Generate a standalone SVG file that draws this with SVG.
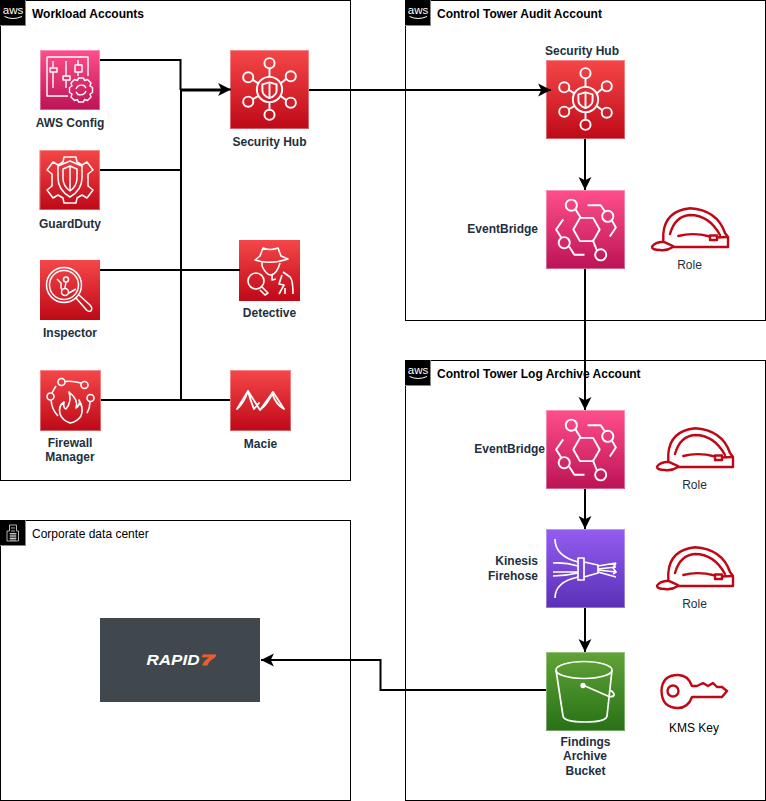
<svg xmlns="http://www.w3.org/2000/svg" width="766" height="801" viewBox="0 0 766 801">
<style>
.box{fill:#fff;stroke:#000;stroke-width:1}
.t{font:bold 12px "Liberation Sans",Arial,sans-serif;fill:#000}
.l{font:bold 12px "Liberation Sans",Arial,sans-serif;fill:#232F3E;text-anchor:middle}
.e{font:bold 12px "Liberation Sans",Arial,sans-serif;fill:#232F3E;text-anchor:end}
.r{font:12px "Liberation Sans",Arial,sans-serif;fill:#232F3E;text-anchor:middle}
.c{fill:none;stroke:#000;stroke-width:2}
.w{fill:none;stroke:#fff;stroke-width:1.900;stroke-linejoin:round}
.red{fill:none;stroke:#BF0816;stroke-width:2.400;stroke-linejoin:round;stroke-linecap:round}
.edge{fill:none;stroke-opacity:.35;stroke:#fff;stroke-width:1}
.logo{font:italic bold 14.500px "Liberation Sans",Arial,sans-serif}
</style>
<defs>
<linearGradient id="gR" x1="0" y1="0" x2="0" y2="1"><stop offset="0" stop-color="#F54749"/><stop offset="1" stop-color="#BE0917"/></linearGradient>
<linearGradient id="gP" x1="0" y1="0" x2="0" y2="1"><stop offset="0" stop-color="#FF4F8B"/><stop offset="1" stop-color="#BC1356"/></linearGradient>
<linearGradient id="gV" x1="0" y1="0" x2="0" y2="1"><stop offset="0" stop-color="#945DF2"/><stop offset="1" stop-color="#5A30B5"/></linearGradient>
<linearGradient id="gG" x1="0" y1="0" x2="0" y2="1"><stop offset="0" stop-color="#60A337"/><stop offset="1" stop-color="#277116"/></linearGradient>
<marker id="a" markerUnits="userSpaceOnUse" markerWidth="14" markerHeight="14" refX="12" refY="6" orient="auto" viewBox="0 0 13 12"><path d="M0 0L12 6L0 12L3 6Z" fill="#000"/></marker>
<symbol id="awsTag" viewBox="0 0 26 26">
<rect width="26" height="26" fill="#888"/>
<rect width="25" height="25" fill="#000"/>
<text x="13" y="13.500" text-anchor="middle" style="font:11.500px 'Liberation Sans',Arial,sans-serif;fill:#fff">aws</text>
<path d="M4.500 16.500Q13 20.500 22 16.500" fill="none" stroke="#fff" stroke-width="1"/>
</symbol>
<symbol id="hub" viewBox="0 0 78 78">
<g class="w">
<circle cx="39" cy="39" r="12.500"/><path d="M39 32L46 34V40Q46 45 39 47.500Q32 45 32 40V34Z"/><path d="M39 33V47"/>
<circle cx="39" cy="13" r="5"/><circle cx="18" cy="27" r="5"/><circle cx="60" cy="26" r="5"/><circle cx="18" cy="51" r="5"/><circle cx="60" cy="52" r="5"/><circle cx="39" cy="64" r="5"/>
<path d="M39 18V26.500M39 51.500V59M22.500 29.500L28 33M55.500 28.500L50 33M22.500 48.500L28 45.500M55.500 49.500L50 45.500"/>
</g>
</symbol>
<symbol id="eb" viewBox="0 0 78 78">
<g class="w">
<path d="M27 39L33.500 27.500H46.500L53 39L46.500 50.500H33.500Z"/>
<circle cx="25" cy="15" r="5.500"/><circle cx="61" cy="26" r="5.500"/><circle cx="18" cy="52" r="5.500"/><circle cx="54" cy="64" r="5.500"/>
<path d="M29 19L34 27M46 49L50 59M41 15H54L58 21M65 30L69 37L63 46M17 29L10 39L15 47M23 56L28 64H38"/>
</g>
</symbol>
<g id="hat">
<path d="M12.300 35.700V28Q14 5 39 2.300Q66 4 74 27L77 31V41H22Q16 45 9 44Q1 44 1 40.700Q4 36 12.300 35.700Q17 38 22 40"/>
<path d="M19 28Q24 10 39 9Q58 9 69 29M27.300 30Q42 26 59 30.500M59 29.500H66V34H59ZM66 31.500L76 31"/>
</g>
</defs>
<g id="workload"><rect class="box" x="0.500" y="0.500" width="350" height="480"/><use href="#awsTag" x="0" y="0" width="26" height="26"/><text class="t" x="32" y="18">Workload Accounts</text></g>
<g id="audit"><rect class="box" x="405.500" y="0.500" width="360" height="320"/><use href="#awsTag" x="405" y="0" width="26" height="26"/><text class="t" x="437" y="18">Control Tower Audit Account</text></g>
<g id="logarchive"><rect class="box" x="405.500" y="360.500" width="360" height="440"/><use href="#awsTag" x="405" y="360" width="26" height="26"/><text class="t" x="437" y="378">Control Tower Log Archive Account</text></g>
<g id="corporate"><rect class="box" x="0.500" y="520.500" width="350" height="280"/><rect x="0" y="520" width="26" height="26" fill="#888"/><rect x="0" y="520" width="25" height="25" fill="#000"/><path d="M7 541V531H9.500V525H16.500V531H18.500V541ZM11 528H15M11 531H15M9.500 533.500H16.500M9.500 536H16.500M9.500 538.500H16.500M11 533V541M13 533V541M15 533V541" fill="none" stroke="#ddd" stroke-width="0.800"/><text x="32" y="538" style="font:12px 'Liberation Sans',Arial,sans-serif;fill:#000">Corporate data center</text></g>
<g id="config"><rect x="40" y="50" width="60" height="60" fill="url(#gP)"/><rect class="edge" x="40.500" y="50.500" width="59" height="59"/>
<g class="w" style="stroke-width:1.400"><path d="M88 76V57H47V96H68"/><path d="M53 61V68M53 72V88M66 61V76M66 80V88M78 60V65M78 72V76"/><rect x="50" y="68" width="7" height="4"/><rect x="63" y="76" width="7" height="4"/><rect x="75" y="65" width="7" height="7"/><path d="M78.500 78H83.500L84.500 80.500L87.500 79.500L91 83L90 86L92.500 87.500V92.500L90 94L91 97L87.500 100.500L84.500 99.500L83.500 102H78.500L77.500 99.500L74.500 100.500L71 97L72 94L69.500 92.500V87.500L72 86L71 83L74.500 79.500L77.500 80.500Z"/><path d="M76 89Q78 84 84 85.500L86 88M86 91Q84 96 78 94.500L76 92"/></g>
<text class="l" x="70" y="127">AWS Config</text></g>
<g id="guardduty"><rect x="39.500" y="150" width="60.500" height="60" fill="url(#gR)"/><rect class="edge" x="40" y="150.500" width="59.500" height="59"/>
<g class="w" style="stroke-width:1.500"><path d="M64 157H76L77 162L82 165L87 162L93 170L88 174V186L93 190L87 198L82 195L77 198L76 203H64L63 198L58 195L53 198L47 190L52 186V174L47 170L53 162L58 165L63 162Z"/><path d="M70 161L82 166V178Q82 190 70 197Q58 190 58 178V166Z"/><path d="M70 166L77 169V178Q77 186 70 191Q63 186 63 178V169ZM70 166V191"/></g>
<text class="l" x="70" y="228">GuardDuty</text></g>
<g id="securityhub1"><rect x="230" y="50" width="79" height="79" fill="url(#gR)"/><rect class="edge" x="230.500" y="50.500" width="78" height="78"/><use href="#hub" x="230" y="50" width="79" height="79"/><text class="l" x="269.500" y="146">Security Hub</text></g>
<g id="inspector"><rect x="40" y="260" width="60" height="60" fill="url(#gR)"/>
<g class="w" style="stroke-width:1.500"><circle cx="64" cy="285" r="17.500"/><circle cx="64" cy="285" r="14.500"/><path d="M76 298L87 310.500Q90 312.500 91.500 310Q92.500 307.500 90 305L79 295"/><circle cx="66" cy="279.500" r="2.500"/><circle cx="65" cy="292" r="3.500"/><path d="M66 282L65 288M57 279L61 283V288L62 290M69 293L76 289"/></g>
<text class="l" x="70" y="337">Inspector</text></g>
<g id="detective"><rect x="239" y="240" width="61" height="61" fill="url(#gR)"/>
<g class="w" style="stroke-width:1.600"><path d="M255 260Q270 265 288 259L281 256L278 248Q270 251 263 248L260 256Z"/><path d="M262 262V266Q266 275 271 275Q277 274 280 263"/><circle cx="256" cy="281" r="8"/><path d="M262 287L268 293L265 295L260 290"/><path d="M272 275L272 280L276 279M283 272L290 277Q293 280 293 294M282 275L279 284L284 285L279 294M285 288V294"/></g>
<text class="l" x="269.500" y="317">Detective</text></g>
<g id="firewall"><rect x="40" y="370" width="61" height="61" fill="url(#gR)"/><rect class="edge" x="40.500" y="370.500" width="60" height="60"/>
<g class="w" style="stroke-width:1.600"><circle cx="61.500" cy="382" r="3.500"/><circle cx="84.500" cy="385" r="3.500"/><circle cx="50.500" cy="396.500" r="3.500"/><circle cx="90.500" cy="398" r="3.500"/><path d="M65 381.500Q72 380.500 81 383M51 400Q52 410 58 416M56 386Q54 389 52 393M90 402Q90 408 87 413"/><path d="M69 392Q79 400 76 408Q81 404 79 400Q84 408 81 416Q77 422 70 423Q62 420 60 414Q58 406 64 402Q63 408 66 409Q72 402 69 392Z"/></g>
<text class="l" x="70" y="447">Firewall</text><text class="l" x="70" y="461">Manager</text></g>
<g id="macie"><rect x="230" y="370" width="61" height="61" fill="url(#gR)"/><rect class="edge" x="230.500" y="370.500" width="60" height="60"/>
<path class="w" style="stroke-width:1.800" stroke-linecap="round" d="M237 409L248 391L260 410L273 392L284 409Q276 405 272 393M248 391Q244 403 237 409M248 391Q251 402 254 409M273 392Q268 404 260 410M254 409L259 403"/>
<text class="l" x="260.500" y="448">Macie</text></g>
<g id="securityhub2"><rect x="546" y="60" width="79" height="79" fill="url(#gR)"/><rect class="edge" x="546.500" y="60.500" width="78" height="78"/><use href="#hub" x="546" y="60" width="79" height="79"/><text class="l" x="582" y="55">Security Hub</text></g>
<g id="eventbridge1"><rect x="546" y="190" width="79" height="79" fill="url(#gP)"/><rect class="edge" x="546.500" y="190.500" width="78" height="78"/><use href="#eb" x="546" y="190" width="79" height="79"/><text class="e" x="538" y="233">EventBridge</text></g>
<g id="role1"><use href="#hat" class="red" transform="translate(651,206)"/><text class="r" x="689.500" y="269">Role</text></g>
<g id="eventbridge2"><rect x="546" y="410" width="79" height="79" fill="url(#gP)"/><rect class="edge" x="546.500" y="410.500" width="78" height="78"/><use href="#eb" x="546" y="410" width="79" height="79"/><text class="e" x="545" y="453">EventBridge</text></g>
<g id="role2"><use href="#hat" class="red" transform="translate(656,426)"/><text class="r" x="694.500" y="489">Role</text></g>
<g id="firehose"><rect x="546" y="529" width="79" height="79" fill="url(#gV)"/><rect class="edge" x="546.500" y="529.500" width="78" height="78"/>
<g class="w" style="stroke-width:1.700"><path d="M555 539Q555 556 578 562M553 563Q565 562 578 566M553 572H578M553 576Q565 576 578 573M555 598Q555 582 578 577"/><path d="M578 558H584V580H578ZM584 562L598 565V573L584 577Z"/><path d="M598 566L616 563M598 569L616 567M598 570L616 572M598 572L616 577M616 563L613 568L616 572L613 574"/></g>
<text class="e" x="538" y="565">Kinesis</text><text class="e" x="538" y="580">Firehose</text></g>
<g id="role3"><use href="#hat" class="red" transform="translate(656,545)"/><text class="r" x="694.500" y="608">Role</text></g>
<g id="bucket"><rect x="546" y="652" width="79" height="79" fill="url(#gG)"/><rect class="edge" x="546.500" y="652.500" width="78" height="78"/>
<g class="w" style="stroke-width:1.700"><ellipse cx="584" cy="670" rx="28" ry="8.500"/><path d="M556 670L563 716Q564 722 585 722Q606 722 607 716L612 670"/><circle cx="583" cy="685.500" r="1.800" fill="#fff"/><path d="M585 686L609 696.500Q615 697 614 694Q612 690 610 691"/></g>
<text class="l" x="585.500" y="746">Findings</text><text class="l" x="585" y="760">Archive</text><text class="l" x="585.500" y="775">Bucket</text></g>
<g id="kms"><g class="red"><circle cx="673" cy="691" r="5.500"/><path d="M692 686Q688 675 678 675Q662 675 661.500 691Q662 708 678 708Q688 708 692 697H722L727 691L722 687H717L713 683L708 686L703 683L697 686Z"/></g><text class="r" x="694" y="732" style="fill:#000">KMS Key</text></g>
<g id="rapid7"><rect x="100" y="618" width="160" height="84" fill="#40484E"/><text class="logo" x="146.500" y="665" textLength="53" lengthAdjust="spacingAndGlyphs" fill="#fff">RAPID</text><text class="logo" x="201" y="665" textLength="13" lengthAdjust="spacingAndGlyphs" fill="#E95F2B" stroke="#E95F2B" stroke-width="1">7</text></g>
<g id="connectors">
<path class="c" d="M100 60H180.500V90"/>
<path class="c" d="M100 170H181V90"/>
<path class="c" d="M100 270H181V90"/>
<path class="c" d="M240 270H181"/>
<path class="c" d="M101 400H181V90"/>
<path class="c" d="M230 400H181"/>
<path class="c" d="M181 89.500H231" marker-end="url(#a)"/>
<path class="c" d="M181 90.500H225"/>
<path class="c" d="M309 90H551" marker-end="url(#a)"/>
<path class="c" d="M585 139V190" marker-end="url(#a)"/>
<path class="c" d="M585 269V410" marker-end="url(#a)"/>
<path class="c" d="M585 489V529" marker-end="url(#a)"/>
<path class="c" d="M585 608V652" marker-end="url(#a)"/>
<path class="c" d="M546 690H380.500V660H261" marker-end="url(#a)"/>
</g>
</svg>
